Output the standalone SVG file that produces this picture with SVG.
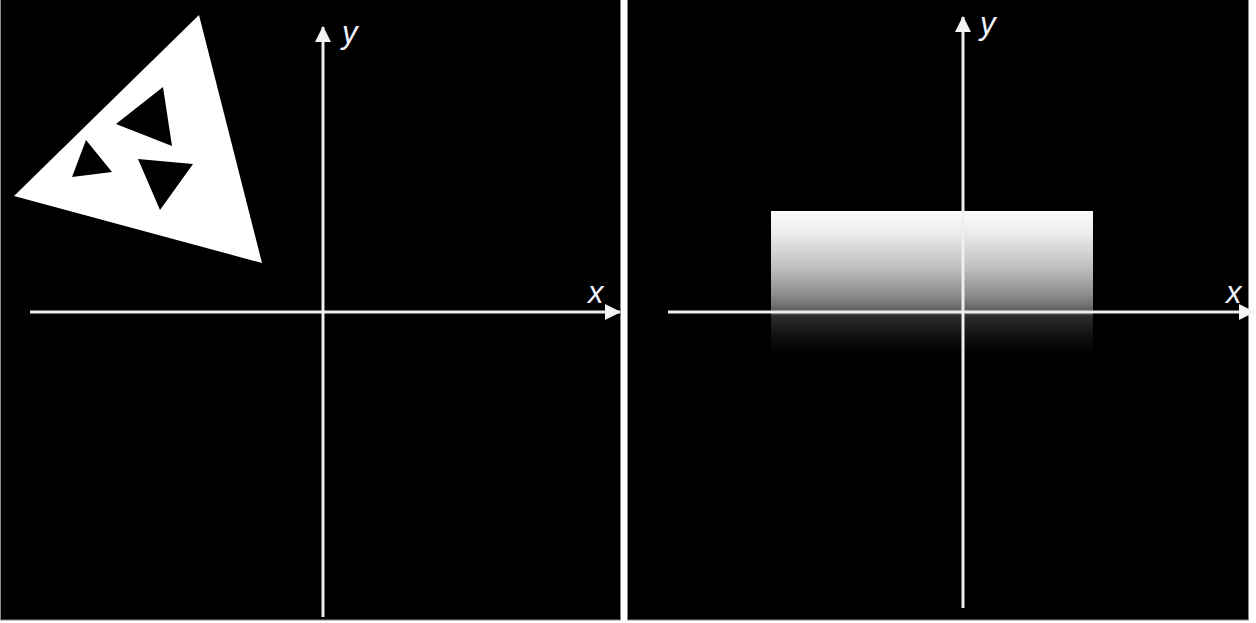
<svg xmlns="http://www.w3.org/2000/svg" width="1256" height="623" viewBox="0 0 1256 623">
  <style>
    .panel { fill: #000; stroke: #8a8a8a; stroke-width: 1; }
    .axis { stroke: #eeeeee; stroke-width: 3; fill: none; marker-end: url(#arrow); }
    .lbl { font-family: "Liberation Sans", "DejaVu Sans", sans-serif; font-style: italic; font-size: 31px; fill: #f2f2ff; }
  </style>
  <defs>
    <marker id="arrow" viewBox="0 0 16 16" refX="15" refY="8" markerWidth="16" markerHeight="16" orient="auto" markerUnits="userSpaceOnUse">
      <path d="M0,0 L16,8 L0,16 z" fill="#f4f4f4"/>
    </marker>
    <linearGradient id="fade" x1="0" y1="0" x2="0" y2="1">
      <stop offset="0" stop-color="#fbfbfb"/>
      <stop offset="0.15" stop-color="#ececec"/>
      <stop offset="0.4" stop-color="#bdbdbd"/>
      <stop offset="0.6" stop-color="#858585"/>
      <stop offset="0.69" stop-color="#5e5e5e"/>
      <stop offset="0.73" stop-color="#2a2a2a"/>
      <stop offset="0.88" stop-color="#0e0e0e"/>
      <stop offset="1" stop-color="#000"/>
    </linearGradient>
  </defs>
  <rect x="0" y="0" width="1256" height="623" fill="#ffffff"/>

  <g id="left-panel">
    <rect class="panel" x="0.5" y="-1" width="620" height="621"/>
    <path id="triangle" fill="#ffffff" fill-rule="evenodd"
      d="M199,15 L14,196 L262,263 Z
         M163,87 L116,124 L172,146 Z
         M86,140 L72,177 L112,172 Z
         M138,159 L193,164 L160,210 Z"/>
  </g>

  <g id="right-panel">
    <rect class="panel" x="627.5" y="-1" width="621" height="621"/>
    <rect id="gradient-rect" x="771" y="211" width="322" height="145" fill="url(#fade)"/>
    <line x1="771" y1="211.5" x2="1093" y2="211.5" stroke="#ffffff" stroke-width="1"/>
  </g>

  <g id="connectors">
    <line class="axis" x1="323" y1="617" x2="323" y2="27"/>
    <line class="axis" x1="30" y1="312" x2="620" y2="312"/>
    <line class="axis" x1="963" y1="608" x2="963" y2="17"/>
    <line class="axis" x1="668" y1="312" x2="1254" y2="312"/>
  </g>

  <g id="labels">
    <text class="lbl" x="342" y="43">y</text>
    <text class="lbl" x="588" y="303">x</text>
    <text class="lbl" x="980" y="34">y</text>
    <text class="lbl" x="1226" y="303">x</text>
  </g>
</svg>
